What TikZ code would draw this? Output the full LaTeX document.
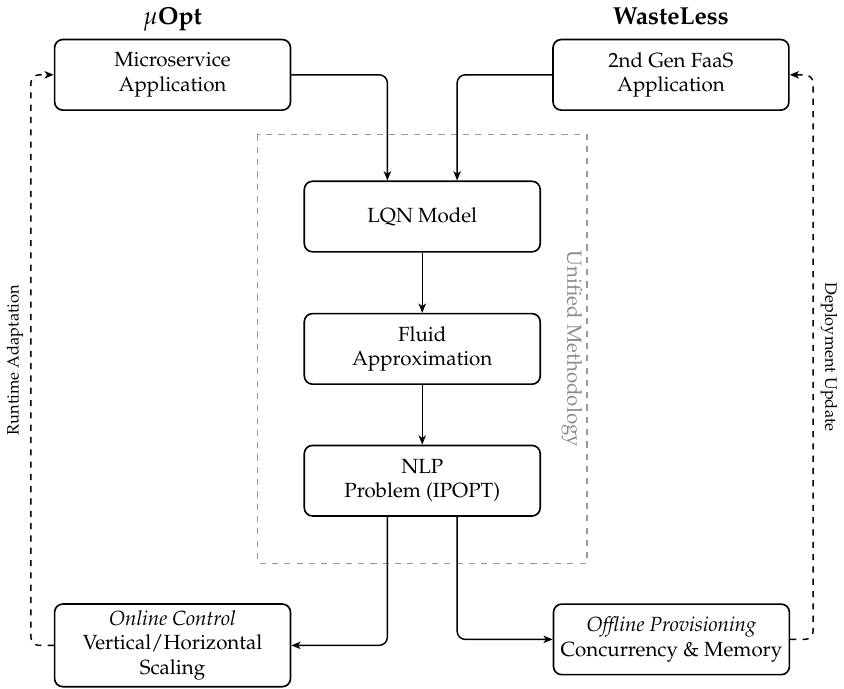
\documentclass[tikz,border=0pt]{standalone}
\usepackage[T1]{fontenc}
\usepackage{mathpazo}
\usetikzlibrary{arrows.meta}

\begin{document}
\begin{tikzpicture}[x=0.485pt,y=-0.485pt,
  box/.style={draw, rounded corners=4pt, line width=0.8pt,
    minimum width=115pt, minimum height=34.4pt, align=center, inner sep=2pt},
  flow/.style={-{Stealth[length=4.5pt,width=3.6pt,inset=1.2pt]}, line width=0.7pt, rounded corners=4pt},
  feedback/.style={flow, dashed},
  title/.style={font=\large\bfseries, anchor=base},
  sidelabel/.style={font=\footnotesize},
  frame/.style={draw=black!40, dashed, line width=0.6pt}]

% canvas
\path[fill=white] (0,0) rectangle (844,688);

% shared methodology frame
\draw[frame] (257,131) rectangle (588,562);
\node[text=black!45, rotate=-90] (unified) at (573,346.5) {Unified Methodology};

% headings
\node[title] (muopt) at (171.5,20) {$\mu$Opt};
\node[title] (wasteless) at (672.5,20) {WasteLess};

% inputs
\node[box] (micro) at (171.5,71) {Microservice\\Application};
\node[box] (faas) at (672.5,71) {2nd Gen FaaS\\Application};

% pipeline
\node[box] (lqn) at (422.5,213.5) {LQN Model};
\node[box] (fluid) at (422.5,346.5) {Fluid\\Approximation};
\node[box] (nlp) at (422.5,479) {NLP\\Problem (IPOPT)};

% outputs
\node[box, minimum height=40.3pt] (online) at (171.5,644.5)
  {\textit{Online Control}\\Vertical/Horizontal\\Scaling};
\node[box] (offline) at (673,638.5)
  {\textit{Offline Provisioning}\\Concurrency \& Memory};

% main flow
\draw[flow] (micro.east) -| ([xshift=-17pt]lqn.north);
\draw[flow] (faas.west) -| ([xshift=17pt]lqn.north);
\draw[flow] (lqn) -- (fluid);
\draw[flow] (fluid) -- (nlp);
\draw[flow] ([xshift=-17pt]nlp.south) |- (online.east);
\draw[flow] ([xshift=17pt]nlp.south) |- (offline.west);

% feedback loops
\draw[feedback] (online.west) -- ++(-23,0) |-
  node[pos=0.25, rotate=90, above, sidelabel] (runtime) {Runtime Adaptation} (micro.west);
\draw[feedback] (offline.east) -- ++(23,0) |-
  node[pos=0.25, rotate=-90, above, sidelabel] (deploy) {Deployment Update} (faas.east);

\end{tikzpicture}
\end{document}
